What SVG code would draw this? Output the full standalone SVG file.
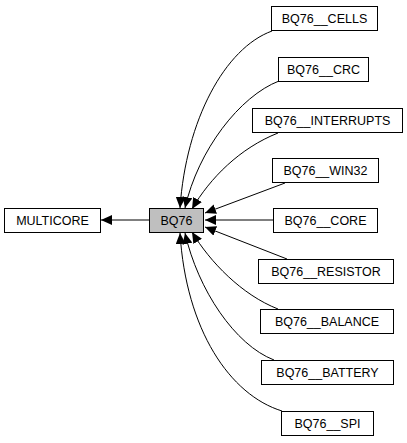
<svg xmlns="http://www.w3.org/2000/svg" width="407" height="443" viewBox="0 0 407 443">
<style>
.box{fill:#ffffff;stroke:#000000;stroke-width:1}
.cur{fill:#bfbfbf;stroke:#000000;stroke-width:1}
.lbl{font-family:"Liberation Sans",Arial,sans-serif;font-size:12.5px;fill:#000000;text-anchor:middle}
.edge{fill:none;stroke:#000000;stroke-width:1;marker-end:url(#arr)}
</style>
<defs>
<marker id="arr" markerUnits="userSpaceOnUse" markerWidth="12" markerHeight="10" refX="11" refY="5" orient="auto">
<path d="M0,0 L11,5 L0,10 Z" fill="#000000"/>
</marker>
</defs>
<rect width="407" height="443" fill="#ffffff"/>
<g id="connectors">
<path class="edge" d="M149,220 L101,220"/>
<path class="edge" d="M272,31 C225,48 186,120 180,208"/>
<path class="edge" d="M279,81 C240,96 198,150 185,208"/>
<path class="edge" d="M278,133 C240,148 210,178 192,209"/>
<path class="edge" d="M285,183 L205,213"/>
<path class="edge" d="M273,220 L205,220"/>
<path class="edge" d="M287,259 L205,227"/>
<path class="edge" d="M278,309 C242,295 210,262 192,232"/>
<path class="edge" d="M274,360 C235,345 198,290 185,233"/>
<path class="edge" d="M282,411 C230,395 186,330 180,233"/>
</g>
<g id="MULTICORE"><rect class="box" x="4.5" y="208.5" width="96" height="24"/><text class="lbl" x="52.5" y="225">MULTICORE</text></g>
<g id="BQ76"><rect class="cur" x="149.5" y="208.5" width="54" height="24"/><text class="lbl" x="176.5" y="225">BQ76</text></g>
<g id="BQ76__CELLS"><rect class="box" x="271.5" y="6.5" width="106" height="24"/><text class="lbl" x="324.5" y="23">BQ76__CELLS</text></g>
<g id="BQ76__CRC"><rect class="box" x="278.5" y="57.5" width="90" height="24"/><text class="lbl" x="323.5" y="74">BQ76__CRC</text></g>
<g id="BQ76__INTERRUPTS"><rect class="box" x="252.5" y="108.5" width="150" height="24"/><text class="lbl" x="327.5" y="125">BQ76__INTERRUPTS</text></g>
<g id="BQ76__WIN32"><rect class="box" x="272.5" y="158.5" width="106" height="24"/><text class="lbl" x="325.5" y="175">BQ76__WIN32</text></g>
<g id="BQ76__CORE"><rect class="box" x="273.5" y="208.5" width="104" height="24"/><text class="lbl" x="325.5" y="225">BQ76__CORE</text></g>
<g id="BQ76__RESISTOR"><rect class="box" x="258.5" y="259.5" width="135" height="24"/><text class="lbl" x="326" y="276">BQ76__RESISTOR</text></g>
<g id="BQ76__BALANCE"><rect class="box" x="260.5" y="309.5" width="133" height="24"/><text class="lbl" x="327" y="326">BQ76__BALANCE</text></g>
<g id="BQ76__BATTERY"><rect class="box" x="261.5" y="360.5" width="132" height="24"/><text class="lbl" x="327.5" y="377">BQ76__BATTERY</text></g>
<g id="BQ76__SPI"><rect class="box" x="281.5" y="411.5" width="92" height="24"/><text class="lbl" x="327.5" y="428">BQ76__SPI</text></g>
</svg>
